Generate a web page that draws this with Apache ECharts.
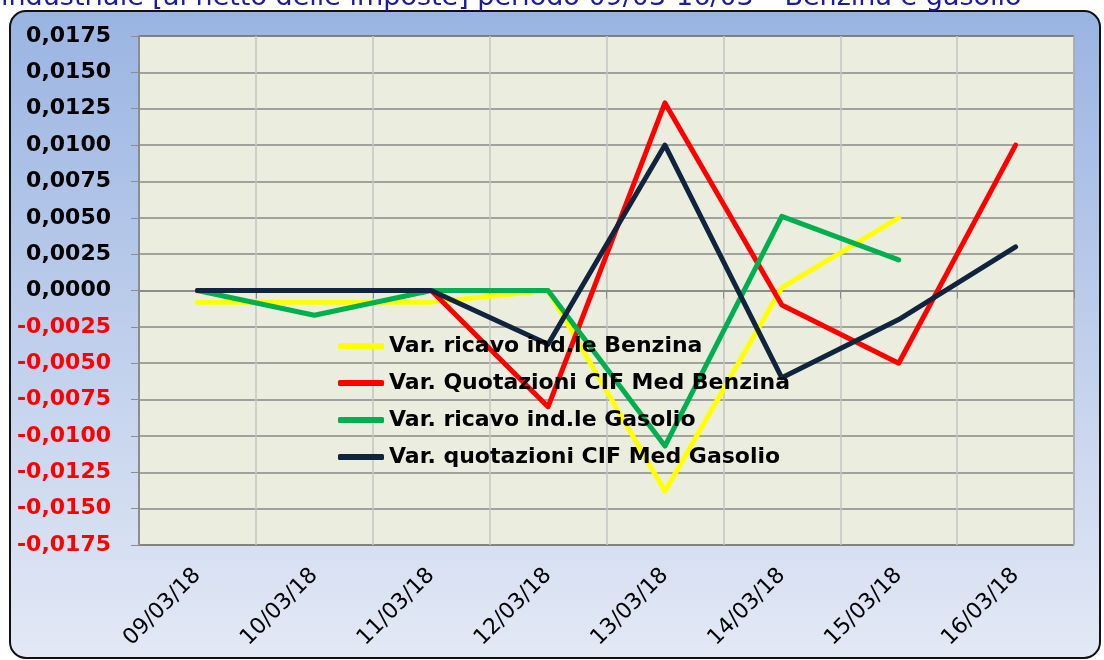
<!DOCTYPE html>
<html>
<head>
<meta charset="utf-8">
<script src="https://cdn.jsdelivr.net/npm/echarts@6/dist/echarts.min.js"></script>
<style>
	html, body { margin: 0; padding: 0; background: #fff; }
	#chart { width: 1104px; height: 660px; }
</style>
</head>
<body>
<div id="chart"></div>
<script>
	var titolo = 'industriale [al netto delle imposte] periodo 09/03-16/03 – Benzina e gasolio';
	var giorni = [ '09/03/18', '10/03/18', '11/03/18', '12/03/18', '13/03/18', '14/03/18', '15/03/18', '16/03/18' ];
	var nomi = [ 'Var. ricavo ind.le Benzina', 'Var. Quotazioni CIF Med Benzina', 'Var. ricavo ind.le Gasolio', 'Var. quotazioni CIF Med Gasolio' ];

	var ricavoBenzina = [ -0.0008, -0.0008, -0.0008, 0.0000, -0.0138, 0.0002, 0.0050, null ];
	var quotBenzina = [ 0.0000, 0.0000, 0.0000, -0.0080, 0.0129, -0.0010, -0.0050, 0.0100 ];
	var ricavoGasolio = [ 0.0000, -0.0017, 0.0000, 0.0000, -0.0107, 0.0051, 0.0021, null ];
	var quotGasolio = [ 0.0000, 0.0000, 0.0000, -0.0037, 0.0100, -0.0060, -0.0020, 0.0030 ];

	var colori = [ '#FFFF00', '#FF0000', '#00B050', '#10243E' ];
	var font = 'DejaVu Sans, Verdana, sans-serif';

	var valori = [ ricavoBenzina, quotBenzina, ricavoGasolio, quotGasolio ];
	var series = [];
	for (var i = 0; i < valori.length; i++) {
		series.push({
			name : nomi[i],
			type : 'line',
			data : valori[i],
			showSymbol : false,
			symbol : 'none',
			connectNulls : false,
			lineStyle : {
				color : colori[i],
				width : 5,
				cap : 'round',
				join : 'round'
			},
			itemStyle : {
				color : colori[i]
			}
		});
	}

	var options = {
		animation : false,
		graphic : [ {
			type : 'rect',
			z : -10,
			shape : { x : 10, y : 11, width : 1090, height : 647, r : 16 },
			style : {
				fill : new echarts.graphic.LinearGradient(0, 0, 0, 1, [
					{ offset : 0, color : '#9AB4E2' },
					{ offset : 1, color : '#E3E9F5' }
				]),
				stroke : '#111',
				lineWidth : 2
			}
		}, {
			type : 'text',
			z : 10,
			style : {
				x : 1,
				y : 11,
				text : titolo,
				fill : '#1C1C9C',
				font : '27px ' + font,
				verticalAlign : 'bottom'
			}
		} ],
		legend : {
			data : nomi,
			orient : 'vertical',
			left : 333,
			top : 329,
			icon : 'roundRect',
			itemWidth : 46,
			itemHeight : 6,
			itemGap : 13,
			textStyle : {
				color : '#000',
				fontFamily : font,
				fontWeight : 'bold',
				fontSize : 22,
				lineHeight : 24
			}
		},
		grid : {
			left : 139,
			right : 30,
			top : 36,
			bottom : 115,
			show : true,
			backgroundColor : '#EBEEDE',
			borderColor : '#000',
			borderWidth : 1
		},
		xAxis : [ {
			type : 'category',
			data : giorni,
			boundaryGap : true,
			axisLine : { lineStyle : { color : '#8C8C8C', width : 2 } },
			axisTick : { show : true, length : 8, lineStyle : { color : '#8C8C8C' } },
			splitLine : { show : true, lineStyle : { color : '#C4C4C4', width : 1.5 } },
			axisLabel : {
				rotate : 45,
				margin : 27,
				color : '#000',
				fontFamily : font,
				fontSize : 22,
				interval : 0
			}
		} ],
		yAxis : [ {
			type : 'value',
			min : -0.0175,
			max : 0.0175,
			interval : 0.0025,
			axisLine : { show : true, lineStyle : { color : '#8C8C8C', width : 2 } },
			axisTick : { show : true, length : 8, lineStyle : { color : '#8C8C8C' } },
			splitLine : { show : true, lineStyle : { color : '#888888', width : 1.5 } },
			axisLabel : {
				margin : 28,
				fontFamily : font,
				fontWeight : 'bold',
				fontSize : 22,
				color : function(value) {
					return value < -1e-9 ? '#FF0000' : '#000';
				},
				formatter : function(value) {
					var v = Math.round(value * 10000) / 10000;
					if (Math.abs(v) < 1e-9) {
						v = 0;
					}
					return v.toFixed(4).replace('.', ',');
				}
			}
		} ],
		series : series
	};

	var chart = echarts.init(document.getElementById('chart'));
	chart.setOption(options);
</script>
</body>
</html>
